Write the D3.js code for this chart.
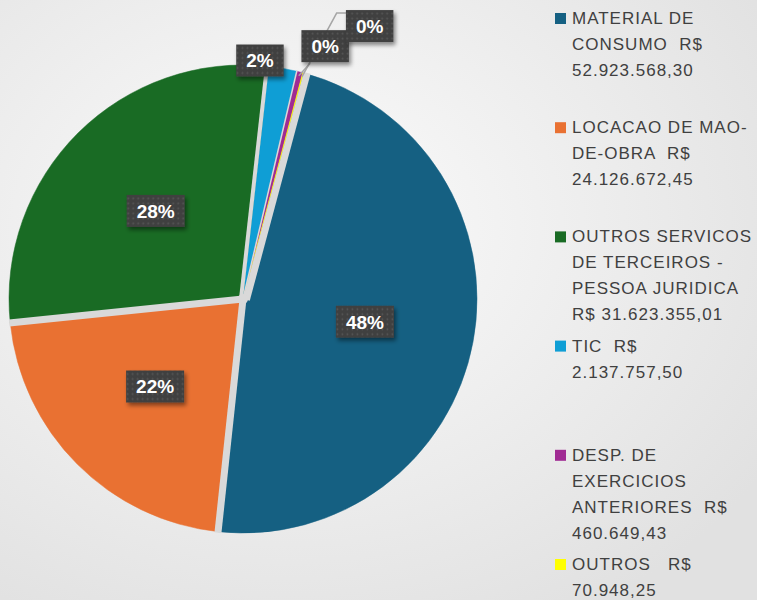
<!DOCTYPE html>
<html>
<head>
<meta charset="utf-8">
<script src="https://cdn.jsdelivr.net/npm/d3@7"></script>
<style>
  html, body { margin: 0; padding: 0; }
  svg { display: block; }
  .legend text { white-space: pre; }
</style>
</head>
<body>
<div id="chart"></div>
<script>
// Data
var categories = ["MATERIAL DE CONSUMO", "LOCACAO DE MAO-DE-OBRA", "OUTROS SERVICOS DE TERCEIROS - PESSOA JURIDICA",
                  "TIC", "DESP. DE EXERCICIOS ANTERIORES", "OUTROS"];
var values = [52923568.30, 24126672.45, 31623355.01, 2137757.50, 460649.43, 70948.25];
var colors = ["#156082", "#e97132", "#196b24", "#0f9ed5", "#a02b93", "#ffff00"];
// legend text as wrapped in the original
var legendLines = [
    ["MATERIAL DE", "CONSUMO  R$", "52.923.568,30"],
    ["LOCACAO DE MAO-", "DE-OBRA  R$", "24.126.672,45"],
    ["OUTROS SERVICOS", "DE TERCEIROS -", "PESSOA JURIDICA", "R$ 31.623.355,01"],
    ["TIC  R$", "2.137.757,50"],
    ["DESP. DE", "EXERCICIOS", "ANTERIORES  R$", "460.649,43"],
    ["OUTROS   R$", "70.948,25"]
];

var width = 757, height = 600;
var cx = 243, cy = 299, radius = 234;

var svg = d3.select("#chart").append("svg")
    .attr("width", width)
    .attr("height", height);

var defs = svg.append("defs");

// background gradient
var bg = defs.append("radialGradient").attr("id", "bg")
    .attr("cx", "38%").attr("cy", "38%").attr("r", "75%");
bg.append("stop").attr("offset", "0%").attr("stop-color", "#fcfcfc");
bg.append("stop").attr("offset", "100%").attr("stop-color", "#e1e1e1");

// dotted label fill
var pat = defs.append("pattern").attr("id", "dots")
    .attr("width", 5).attr("height", 5).attr("patternUnits", "userSpaceOnUse");
pat.append("rect").attr("width", 5).attr("height", 5).attr("fill", "#404040");
pat.append("circle").attr("cx", 2.5).attr("cy", 2.5).attr("r", 0.9).attr("fill", "#575757");

var shadow = defs.append("filter").attr("id", "shadow")
    .attr("x", "-30%").attr("y", "-30%").attr("width", "160%").attr("height", "160%");
shadow.append("feDropShadow").attr("dx", 2).attr("dy", 3).attr("stdDeviation", 2)
    .attr("flood-color", "#000").attr("flood-opacity", 0.45);

svg.append("rect").attr("width", width).attr("height", height).attr("fill", "url(#bg)");

var start = 15 * Math.PI / 180;
var pie = d3.pie().sort(null).startAngle(start).endAngle(start + 2 * Math.PI);
var arcs = pie(values);
var total = d3.sum(values);

var arc = d3.arc().innerRadius(0).outerRadius(radius);

var g = svg.append("g").attr("transform", "translate(" + cx + "," + cy + ")");

g.selectAll("path.slice")
    .data(arcs)
    .enter().append("path")
    .attr("class", "slice")
    .attr("d", arc)
    .attr("fill", function(d, i) { return colors[i]; })
    .attr("stroke", function(d, i) { return colors[i]; })
    .attr("stroke-width", 0.5);

// gray separators along each slice's start edge; around the thin slices the
// gap is pushed into the big neighbour so the thin ones stay visible
var sepWidth = [7, 7, 7, 4, 1.5, 0];
var sepShift = [3.5, 0, 0, -2, 0, 0];
g.selectAll("line.sep")
    .data(arcs)
    .enter().append("line")
    .attr("class", "sep")
    .filter(function(d, i) { return sepWidth[i] > 0; })
    .attr("x1", function(d) { return Math.cos(d.startAngle) * sepShift[d.index]; })
    .attr("y1", function(d) { return Math.sin(d.startAngle) * sepShift[d.index]; })
    .attr("x2", function(d) { return Math.sin(d.startAngle) * (radius + 1) + Math.cos(d.startAngle) * sepShift[d.index]; })
    .attr("y2", function(d) { return -Math.cos(d.startAngle) * (radius + 1) + Math.sin(d.startAngle) * sepShift[d.index]; })
    .attr("stroke", "#d9d9d9")
    .attr("stroke-width", function(d) { return sepWidth[d.index]; });
g.append("circle").attr("r", 5).attr("fill", "#d9d9d9");

// Labels
var pct = d3.format(".0%");
var inner = d3.arc().innerRadius(radius * 0.53).outerRadius(radius * 0.53);
var outer = d3.arc().innerRadius(radius + 6).outerRadius(radius + 6);
var edge = d3.arc().innerRadius(radius - 4).outerRadius(radius - 4);
// nudges for the thin slices (best fit outside)
var nudge = {3: [-24, -2], 4: [24, -20], 5: [65, -41]};

var labelPos = arcs.map(function(d, i) {
    if (nudge[i]) {
        var p = outer.centroid(d);
        return [p[0] + nudge[i][0], p[1] + nudge[i][1]];
    }
    return inner.centroid(d);
});

// leader lines for the two 0% labels
[4, 5].forEach(function(i) {
    var e = edge.centroid(arcs[i]);
    var p = labelPos[i];
    var pts;
    if (i === 4) {
        pts = [e, [p[0] - 15, p[1] + 17]];
    } else {
        pts = [e, [p[0] - 33, p[1] - 13], [p[0] - 22, p[1] - 13]];
    }
    g.append("path")
        .attr("d", d3.line()(pts))
        .attr("fill", "none")
        .attr("stroke", "#a6a6a6")
        .attr("stroke-width", 1.5);
});

var lbl = g.selectAll("g.lbl")
    .data(arcs)
    .enter().append("g")
    .attr("class", "lbl")
    .attr("transform", function(d, i) { return "translate(" + labelPos[i][0] + "," + labelPos[i][1] + ")"; });

lbl.each(function(d, i) {
    var sel = d3.select(this);
    var t = sel.append("text")
        .attr("text-anchor", "middle")
        .attr("dy", "0.36em")
        .attr("fill", "#ffffff")
        .attr("font-family", "Liberation Sans, Arial, sans-serif")
        .attr("font-weight", "bold")
        .attr("font-size", 19)
        .text(pct(d.value / total));
    var w = t.node().getComputedTextLength() + 20;
    var h = 32;
    sel.insert("rect", "text")
        .attr("x", -w / 2).attr("y", -h / 2)
        .attr("width", w).attr("height", h)
        .attr("fill", "url(#dots)")
        .attr("filter", "url(#shadow)");
});

// Legend
var legend = svg.append("g").attr("class", "legend").attr("transform", "translate(555,0)");
var lineH = 26, step = 109.2, firstBase = 24;

var item = legend.selectAll("g.item")
    .data(legendLines)
    .enter().append("g")
    .attr("class", "item")
    .attr("transform", function(d, i) { return "translate(0," + (firstBase + i * step) + ")"; });

item.append("rect")
    .attr("x", 0).attr("y", -11)
    .attr("width", 11).attr("height", 11)
    .attr("fill", function(d, i) { return colors[i]; });

item.append("text")
    .attr("x", 17)
    .attr("font-family", "Liberation Sans, Arial, sans-serif")
    .attr("font-size", 17)
    .attr("letter-spacing", 1)
    .attr("fill", "#404040")
    .selectAll("tspan")
    .data(function(d) { return d; })
    .enter().append("tspan")
    .attr("x", 17)
    .attr("y", function(d, j) { return j * lineH; })
    .text(function(d) { return d; });
</script>
</body>
</html>
